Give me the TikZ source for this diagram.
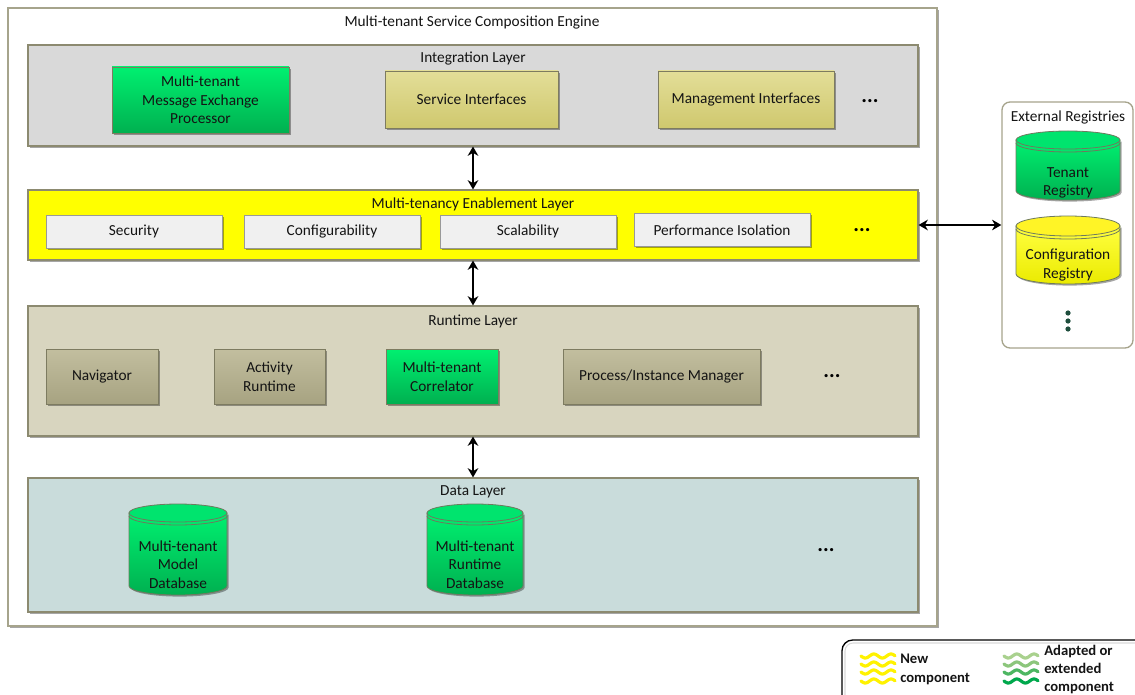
\documentclass[tikz,border=0pt]{standalone}
\usepackage{fontspec}
\setmainfont{Carlito}
\usetikzlibrary{shadows,arrows.meta}

\definecolor{frame}{HTML}{A6A48C}
\definecolor{layerline}{HTML}{8C8A70}
\definecolor{integfill}{HTML}{D9D9D9}
\definecolor{mtfill}{HTML}{FFFF00}
\definecolor{rtfill}{HTML}{D8D5BF}
\definecolor{datafill}{HTML}{C9DCDB}
\definecolor{greenhi}{HTML}{00F070}
\definecolor{greenlo}{HTML}{00B050}
\definecolor{greenlid}{HTML}{00E46E}
\definecolor{khakihi}{HTML}{E3DE98}
\definecolor{khakilo}{HTML}{CFC86E}
\definecolor{olivehi}{HTML}{C2BE9F}
\definecolor{olivelo}{HTML}{A7A381}
\definecolor{boxline}{HTML}{7D7B60}
\definecolor{cylline}{HTML}{6E7A5E}
\definecolor{dotgreen}{HTML}{1F4E3D}
\definecolor{txt}{HTML}{141414}

\tikzset{
  shadowed/.style={drop shadow={shadow xshift=1.2pt,shadow yshift=-1.2pt,fill=black,opacity=0.35}},
  layer/.style={draw=layerline,line width=0.8pt,shadowed,inner sep=0pt},
  comp/.style={draw=boxline,line width=0.6pt,shadowed,align=center,text=txt,inner sep=0pt},
  greencomp/.style={comp,top color=greenhi,bottom color=greenlo},
  khakicomp/.style={comp,top color=khakihi,bottom color=khakilo},
  olivecomp/.style={comp,top color=olivehi,bottom color=olivelo},
  graycomp/.style={comp,draw=gray!80,fill=gray!12},
  title/.style={text=txt,inner sep=0pt},
  more/.style={font=\fontsize{16}{16}\selectfont\bfseries,text=black,inner sep=0pt},
  dblarrow/.style={{Stealth[length=7pt,width=8pt]}-{Stealth[length=7pt,width=8pt]},line width=1.5pt,black},
  wave/.style={line width=2.4pt,line cap=round},
}

% cylinder: #1 centre x, #2 top ellipse y, #3 bottom ellipse y, #4 half width, #5 ellipse radius, #6 top colour, #7 bottom colour, #8 lid colour
\newcommand\dbcyl[8]{%
  \path[draw=cylline,line width=0.6pt,top color=#6,bottom color=#7,shadowed]
    (#1-#4,#2) -- (#1-#4,#3)
    arc[start angle=180,end angle=0,x radius=#4,y radius=#5]
    -- (#1+#4,#2) -- cycle;
  \path[draw=cylline,line width=0.6pt,fill=#8] (#1,#2) ellipse[x radius=#4,y radius=#5];
  \draw[cylline,line width=0.6pt] (#1-#4,#2+3) arc[start angle=180,end angle=0,x radius=#4,y radius=#5];
}

\begin{document}
\begin{tikzpicture}[x=0.75pt,y=-0.75pt,font=\fontsize{11.5}{14}\selectfont]
\useasboundingbox (0,0) rectangle (1135,695);

% engine frame
\node[draw=frame,line width=1.2pt,fill=white,shadowed,minimum width=929*0.75pt,minimum height=618*0.75pt,inner sep=0pt]
  (engine) at (472.5,317) {};
\node[title] (enginetitle) at (472,22) {Multi-tenant Service Composition Engine};

% integration layer
\node[layer,fill=integfill,minimum width=890*0.75pt,minimum height=101*0.75pt] (integ) at (473,95.5) {};
\node[title] (integtitle) at (473,59) {Integration Layer};
\node[greencomp,minimum width=177*0.75pt,minimum height=66*0.75pt] (mep) at (200.5,100)
  {Multi-tenant\\Message Exchange\\Processor};
\node[khakicomp,minimum width=173*0.75pt,minimum height=57*0.75pt] (si) at (471.5,99.5) {Service Interfaces};
\node[khakicomp,minimum width=176*0.75pt,minimum height=57*0.75pt] (mi) at (746,99.5) {Management Interfaces};
\node[more] (moreinteg) at (870,101) {...};

% multi-tenancy enablement layer
\node[layer,fill=mtfill,minimum width=890*0.75pt,minimum height=70*0.75pt] (mt) at (473,225) {};
\node[title] (mttitle) at (473,204) {Multi-tenancy Enablement Layer};
\node[graycomp,minimum width=176*0.75pt,minimum height=33*0.75pt] (sec) at (134,231.5) {Security};
\node[graycomp,minimum width=176*0.75pt,minimum height=33*0.75pt] (conf) at (332,231.5) {Configurability};
\node[graycomp,minimum width=176*0.75pt,minimum height=33*0.75pt] (scal) at (528,231.5) {Scalability};
\node[graycomp,minimum width=176*0.75pt,minimum height=33*0.75pt] (perf) at (722,230) {Performance Isolation};
\node[more] (moremt) at (862,230) {...};

% runtime layer
\node[layer,fill=rtfill,minimum width=890*0.75pt,minimum height=130*0.75pt] (rt) at (473,371) {};
\node[title] (rttitle) at (473,321) {Runtime Layer};
\node[olivecomp,minimum width=112*0.75pt,minimum height=55*0.75pt] (nav) at (102,376.5) {Navigator};
\node[olivecomp,minimum width=111*0.75pt,minimum height=55*0.75pt] (act) at (269.5,376.5) {Activity\\Runtime};
\node[greencomp,minimum width=112*0.75pt,minimum height=55*0.75pt] (corr) at (442,376.5) {Multi-tenant\\Correlator};
\node[olivecomp,minimum width=197*0.75pt,minimum height=55*0.75pt] (pim) at (661.5,376.5) {Process/Instance Manager};
\node[more] (morert) at (832,376) {...};

% data layer
\node[layer,fill=datafill,minimum width=890*0.75pt,minimum height=134*0.75pt] (data) at (473,545) {};
\node[title] (datatitle) at (473,492) {Data Layer};
\dbcyl{178}{513}{586}{49}{9}{greenhi}{greenlo}{greenlid}
\node[title,align=center] (modeldb) at (178,564.5) {Multi-tenant\\Model\\Database};
\dbcyl{475}{513}{586}{48}{9}{greenhi}{greenlo}{greenlid}
\node[title,align=center] (runtimedb) at (475,564.5) {Multi-tenant\\Runtime\\Database};
\node[more] (moredata) at (826,550) {...};

% external registries
\node[draw=frame,line width=1pt,fill=white,rounded corners=6pt,minimum width=131*0.75pt,minimum height=246*0.75pt,inner sep=0pt]
  (ext) at (1067.5,225) {};
\node[title] (exttitle) at (1068,117) {External Registries};
\dbcyl{1068}{140}{191}{52}{9}{greenhi}{greenlo}{greenlid}
\node[title,align=center] (tenantreg) at (1068,183) {Tenant\\Registry};
\dbcyl{1068}{226}{274}{52}{10}{yellow!75!white}{yellow!92!black}{yellow!85!white}
\node[title,align=center] (confreg) at (1068,265) {Configuration\\Registry};
\foreach \yy in {313,321,329} \fill[dotgreen] (1068,\yy) circle[radius=2.6];

% connectors
\draw[dblarrow] (integ.south) -- (mt.north);
\draw[dblarrow] (mt.south) -- (rt.north);
\draw[dblarrow] (rt.south) -- (data.north);
\draw[dblarrow] (mt.east) -- (ext.west);

% legend
\draw[black,line width=1pt,rounded corners=8pt] (842,720) -- (842,640) -- (1160,640);
\draw[gray!30,line width=0.8pt,rounded corners=6pt] (845,720) -- (845,643) -- (1160,643);
\foreach \yy in {656,664,672,681}
  \draw[wave,yellow] plot[domain=0:34,samples=40] (\x+861,{\yy+2*sin(\x*21)});
\foreach \yy/\cc in {656/A9D18E,664/8CC67C,672/4DB662,681/00A84C}{
  \definecolor{wc}{HTML}{\cc}
  \draw[wave,wc] plot[domain=0:34,samples=40] (\x+1004,{\yy+2*sin(\x*21)});
}
\node[title,anchor=west,align=left,font=\fontsize{11}{14.2}\selectfont\bfseries] (newlegend) at (900,669.5) {New\\component};
\node[title,anchor=west,align=left,font=\fontsize{11}{13.8}\selectfont\bfseries] (adaptlegend) at (1044,669.5) {Adapted or\\extended\\component};
\end{tikzpicture}
\end{document}
